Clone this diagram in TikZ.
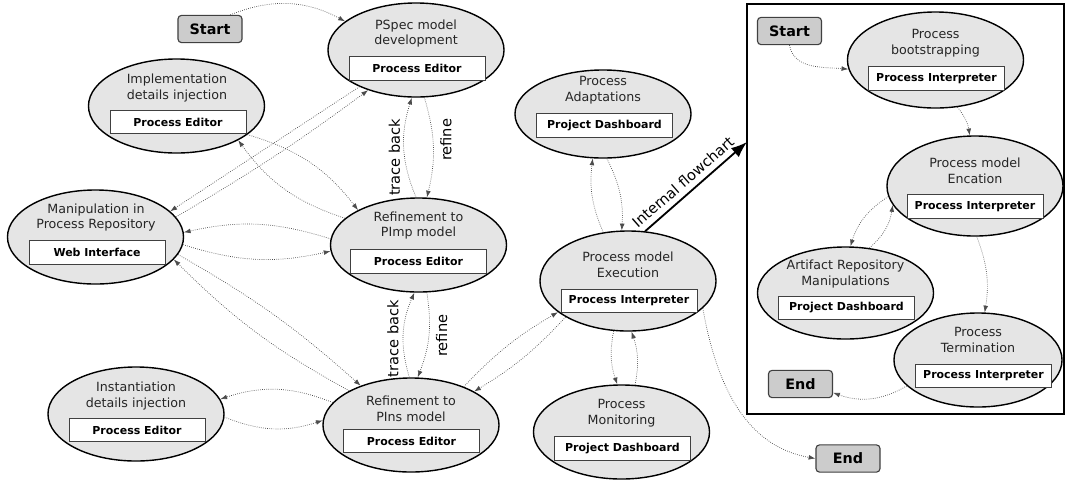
\documentclass[tikz,border=0pt]{standalone}
\usepackage{fontspec}
\setmainfont{DejaVu Sans}
\usetikzlibrary{shapes.geometric,arrows.meta}

\begin{document}
\begin{tikzpicture}[x=0.025cm, y=0.025cm, font=\fontsize{9}{11.3}\selectfont]
    \tikzstyle{procell}=[draw=black, line width=1pt, ellipse, fill=black!10, minimum width=4.4cm, minimum height=2.35cm, inner sep=0pt]
    \tikzstyle{proctitle}=[align=center, inner sep=0pt, text=black!85]
    \tikzstyle{toolbox}=[draw=black!75, line width=0.6pt, fill=white, minimum width=3.4cm, minimum height=0.58cm, inner sep=0pt, font=\fontsize{7.8}{9}\selectfont\bfseries]
    \tikzstyle{termbox}=[draw=black!75, line width=0.8pt, rounded corners=2.5pt, fill=black!20, minimum width=1.6cm, minimum height=0.68cm, inner sep=0pt, font=\fontsize{10.2}{12}\selectfont\bfseries]
    \tikzstyle{flow}=[densely dotted, draw=black!70, line width=0.5pt, -{Latex[length=1.7mm, width=1.2mm]}]
    \tikzstyle{elabel}=[rotate=90, inner sep=3pt, font=\fontsize{10.4}{12}\selectfont]

    \useasboundingbox (0,0) rectangle (1067,-482);

    % model refinement
    \node[termbox] (start) at (210,-29) {Start};

    \node[procell] (pspec) at (416,-50) {};
    \node[proctitle] (pspec-t) at (416,-33.5) {PSpec model\\development};
    \node[toolbox] (pspec-b) at (417,-68.5) {Process Editor};

    \node[procell] (impl) at (176.5,-106) {};
    \node[proctitle] (impl-t) at (177,-88) {Implementation\\details injection};
    \node[toolbox] (impl-b) at (178,-122) {Process Editor};

    \node[procell] (manip) at (95.5,-237) {};
    \node[proctitle] (manip-t) at (96,-217.5) {Manipulation in\\Process Repository};
    \node[toolbox] (manip-b) at (97,-252.5) {Web Interface};

    \node[procell] (pimp) at (418.5,-245) {};
    \node[proctitle] (pimp-t) at (418.5,-225.5) {Refinement to\\PImp model};
    \node[toolbox] (pimp-b) at (418.5,-261.5) {Process Editor};

    \node[procell] (pins) at (411,-425) {};
    \node[proctitle] (pins-t) at (411,-409) {Refinement to\\PIns model};
    \node[toolbox] (pins-b) at (411.5,-441) {Process Editor};

    \node[procell] (inst) at (136,-414) {};
    \node[proctitle] (inst-t) at (136,-396) {Instantiation\\details injection};
    \node[toolbox] (inst-b) at (137,-430) {Process Editor};

    % execution
    \node[procell, minimum height=2.2cm] (adapt) at (603,-114) {};
    \node[proctitle] (adapt-t) at (603,-90) {Process\\Adaptations};
    \node[toolbox] (adapt-b) at (604.5,-125.5) {Project Dashboard};

    \node[procell, minimum height=2.5cm] (exec) at (628,-281) {};
    \node[proctitle] (exec-t) at (628,-265) {Process model\\Execution};
    \node[toolbox] (exec-b) at (629,-301) {Process Interpreter};

    \node[procell] (mon) at (621.5,-432) {};
    \node[proctitle] (mon-t) at (621.5,-413.5) {Process\\Monitoring};
    \node[toolbox] (mon-b) at (622.5,-448.5) {Project Dashboard};

    \node[termbox] (end) at (848,-458.5) {End};

    % internal flowchart
    \node[draw, line width=1.2pt, minimum width=7.925cm, minimum height=10.25cm, inner sep=0pt] (frame) at (905.5,-209) {};

    \node[termbox] (istart) at (789.5,-31) {Start};

    \node[procell, minimum height=2.4cm] (boot) at (935.5,-60) {};
    \node[proctitle] (boot-t) at (935.5,-43.5) {Process\\bootstrapping};
    \node[toolbox] (boot-b) at (936.5,-78.5) {Process Interpreter};

    \node[procell, minimum height=2.5cm] (enact) at (975,-186) {};
    \node[proctitle] (enact-t) at (975,-170.5) {Process model\\Encation};
    \node[toolbox] (enact-b) at (975,-206.5) {Process Interpreter};

    \node[procell, minimum height=2.3cm] (artif) at (845.5,-293) {};
    \node[proctitle] (artif-t) at (845.5,-274) {Artifact Repository\\Manipulations};
    \node[toolbox] (artif-b) at (846.5,-308) {Project Dashboard};

    \node[procell, minimum width=4.2cm] (term) at (978,-360) {};
    \node[proctitle] (term-t) at (978,-340) {Process\\Termination};
    \node[toolbox] (term-b) at (983.5,-376) {Process Interpreter};

    \node[termbox] (iend) at (800.5,-384) {End};

    % connectors
    \draw[flow] (start.35) to[bend left=25] (pspec.158);
    \draw[flow] (pspec.213) -- (manip.19);
    \draw[flow] (manip.14) to[bend right=3] (pspec.220);
    \draw[flow] (impl.338) to[bend left=18] (pimp.150);
    \draw[flow] (pimp.160) to[bend left=18] (impl.331);
    \draw[flow] (pimp.176) to[bend right=15] (manip.3);
    \draw[flow] (manip.355) to[bend right=15] (pimp.184);
    \draw[flow] (manip.348) to[bend left=6] (pins.142);
    \draw[flow] (pins.151) to[bend left=8] (manip.344);
    \draw[flow] (pimp.93) to[bend left=20] node[elabel, anchor=south, pos=0.4] (tb1) {trace back} (pspec.265);
    \draw[flow] (pspec.280) to[bend left=15] node[elabel, anchor=north, pos=0.42, inner sep=5pt] (rf1) {refine} (pimp.80);
    \draw[flow] (pins.92) to[bend left=20] node[elabel, anchor=south, pos=0.45] (tb2) {trace back} (pimp.265);
    \draw[flow] (pimp.280) to[bend left=15] node[elabel, anchor=north, inner sep=5pt] (rf2) {refine} (pins.82);
    \draw[flow] (pins.164) to[bend right=20] (inst.10);
    \draw[flow] (inst.358) to[bend right=20] (pins.177);
    \draw[flow] (pins.36) to[bend left=8] (exec.204);
    \draw[flow] (exec.210) to[bend left=8] (pins.28);
    \draw[flow] (exec.117) to[bend left=15] (adapt.257);
    \draw[flow] (adapt.275) to[bend left=15] (exec.97);
    \draw[flow] (exec.254) to[bend right=15] (mon.95);
    \draw[flow] (mon.74) to[bend right=15] (exec.274);
    \draw[flow] (exec.340) to[out=-80, in=170] (end.west);

    \coordinate (fin) at (747,-142);
    \draw[-{Latex[length=4mm, width=3mm]}, line width=1.3pt] (exec.71) -- node[sloped, above, pos=0.45, inner sep=4pt, font=\fontsize{10.4}{12}\selectfont] (iflow) {Internal flowchart} (fin);

    \draw[flow] (istart.south) to[out=-80, in=175] (boot.186);
    \draw[flow] (boot.295) to[bend left=15] (enact.96);
    \draw[flow] (enact.187) to[bend right=20] (artif.84);
    \draw[flow] (artif.62) to[bend right=20] (enact.193);
    \draw[flow] (enact.272) to[bend left=15] (term.82);
    \draw[flow] (term.200) to[bend left=25] (iend.-15);
\end{tikzpicture}
\end{document}
